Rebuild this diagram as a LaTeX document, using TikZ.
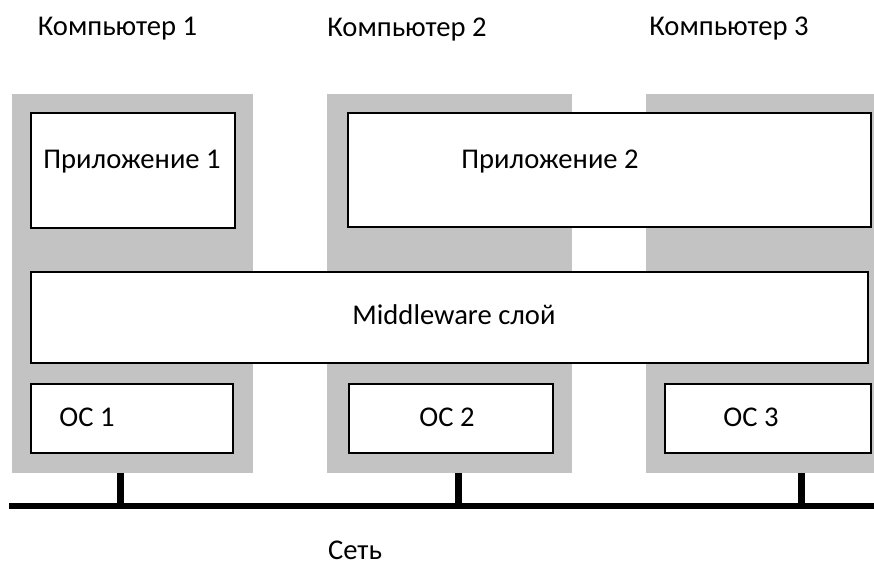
\documentclass[tikz,border=0pt]{standalone}
\usepackage{fontspec}
\setmainfont{Carlito}
\definecolor{compgrey}{HTML}{C3C3C3}
\begin{document}
\begin{tikzpicture}[x=1pt,y=-1pt,
  comp/.style={fill=compgrey,draw=none},
  wbox/.style={fill=white,draw=black,line width=1.8pt},
  lbl/.style={anchor=base,inner sep=0pt,font=\fontsize{28.6}{32}\selectfont},
  bus/.style={line width=6pt},
  stub/.style={line width=7pt}]
\useasboundingbox (0,0) rectangle (874,565);
% computers
\fill[comp] (12,94) rectangle (253,473);
\fill[comp] (327,94) rectangle (572,473);
\fill[comp] (646,94) rectangle (874,473);
% application boxes
\draw[wbox] (31,113) rectangle (235,228);
\draw[wbox] (348,113) rectangle (871,227);
% middleware
\draw[wbox] (31,272) rectangle (868,363);
% OS boxes
\draw[wbox] (31,384) rectangle (233,453);
\draw[wbox] (349,384) rectangle (553,453);
\draw[wbox] (665,384) rectangle (871,453);
% network
\coordinate (busL) at (9,506);
\coordinate (busR) at (874,506);
\draw[bus] (busL) -- (busR);
\coordinate (c1) at (120,473);
\coordinate (c2) at (458,473);
\coordinate (c3) at (801,473);
\draw[stub] (c1) -- (c1 |- busL);
\draw[stub] (c2) -- (c2 |- busL);
\draw[stub] (c3) -- (c3 |- busL);
% labels
\node[lbl] (k1) at (117.5,35) {Компьютер 1};
\node[lbl] (k2) at (407,36) {Компьютер 2};
\node[lbl] (k3) at (729,35) {Компьютер 3};
\node[lbl] (p1) at (132,168) {Приложение 1};
\node[lbl] (p2) at (550,168) {Приложение 2};
\node[lbl] (mw) at (454,324) {Middleware слой};
\node[lbl] (os1) at (87,426) {ОС 1};
\node[lbl] (os2) at (447,426) {ОС 2};
\node[lbl] (os3) at (751,426) {ОС 3};
\node[lbl] (net) at (355,559) {Сеть};
\end{tikzpicture}
\end{document}
